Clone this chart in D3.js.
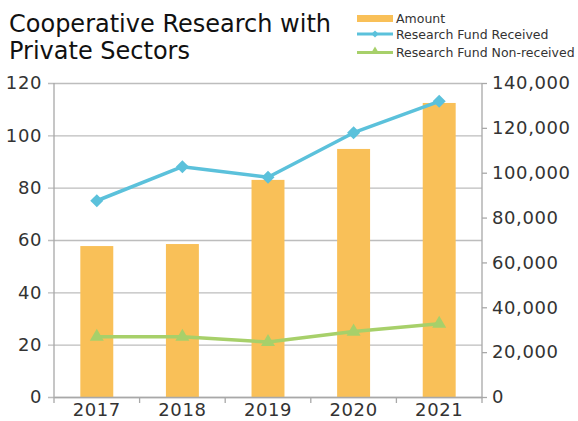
<!DOCTYPE html>
<html>
<head>
<meta charset="utf-8">
<script src="https://cdn.jsdelivr.net/npm/d3@7"></script>
<style>
  html, body { margin: 0; padding: 0; background: #fff; overflow: hidden; }
  svg { display: block; }
  text { font-family: "DejaVu Sans", sans-serif; }
</style>
</head>
<body>
<svg id="chart" width="578" height="421"></svg>
<script>
const titleLines = ["Cooperative Research with", "Private Sectors"];
const years = ["2017", "2018", "2019", "2020", "2021"];
const amount = [67300, 68200, 96800, 110600, 131100];
const fundReceived = [75, 88, 84, 101, 113];
const fundNonReceived = [23, 23, 21, 25, 28];
const leftTicks = [0, 20, 40, 60, 80, 100, 120];
const rightTicks = [0, 20000, 40000, 60000, 80000, 100000, 120000, 140000];
const seriesNames = ["Amount", "Research Fund Received", "Research Fund Non-received"];

const colors = { bar: "#F9C058", received: "#5BC1DB", nonReceived: "#A7D06A", grid: "#BDBDBD", axis: "#A8A8A8", text: "#333333" };

const svg = d3.select("#chart");
const plot = { left: 54, right: 482, top: 83, bottom: 397 };

const x = d3.scaleBand().domain(years).range([plot.left, plot.right]).padding(0);
const yL = d3.scaleLinear().domain([0, 120]).range([plot.bottom, plot.top]);
const yR = d3.scaleLinear().domain([0, 140000]).range([plot.bottom, plot.top]);

// gridlines (left axis ticks extended across)
const leftAxis = d3.axisLeft(yL).tickValues(leftTicks).tickSize(6).tickPadding(6).tickFormat(d3.format("d"));
const gL = svg.append("g").attr("transform", `translate(${plot.left},0)`).call(leftAxis);
gL.select(".domain").remove();
gL.selectAll(".tick line").attr("stroke", colors.grid).attr("stroke-width", 1.3)
  .attr("x1", -6).attr("x2", plot.right - plot.left);
gL.selectAll(".tick text").attr("fill", colors.text).style("font-size", "18px").style("letter-spacing", "0.6px");

const rightAxis = d3.axisRight(yR).tickValues(rightTicks).tickSize(5).tickPadding(5).tickFormat(d3.format(","));
const gR = svg.append("g").attr("transform", `translate(${plot.right},0)`).call(rightAxis);
gR.select(".domain").remove();
gR.selectAll(".tick line").attr("stroke", colors.axis).attr("stroke-width", 1.3);
gR.selectAll(".tick text").attr("fill", colors.text).style("font-size", "18px").style("letter-spacing", "0.6px");

// bars
const barW = x.bandwidth() * 0.385;
svg.append("g").selectAll("rect").data(years).join("rect")
  .attr("x", d => x(d) + x.bandwidth() / 2 - barW / 2)
  .attr("width", barW)
  .attr("y", (d, i) => yR(amount[i]))
  .attr("height", (d, i) => yR(0) - yR(amount[i]))
  .attr("fill", colors.bar);

// axis lines
svg.append("line").attr("x1", plot.left).attr("x2", plot.left).attr("y1", plot.top).attr("y2", plot.bottom + 6)
  .attr("stroke", colors.axis).attr("stroke-width", 1.3);
svg.append("line").attr("x1", plot.right).attr("x2", plot.right).attr("y1", plot.top).attr("y2", plot.bottom + 6)
  .attr("stroke", colors.axis).attr("stroke-width", 1.3);

const bottomAxis = d3.axisBottom(x).tickSize(0).tickPadding(0);
const gB = svg.append("g").attr("transform", `translate(0,${plot.bottom})`).call(bottomAxis);
gB.select(".domain").attr("stroke", colors.axis).attr("stroke-width", 1.3);
gB.selectAll(".tick text").attr("fill", colors.text).style("font-size", "18px").style("letter-spacing", "0.6px")
  .attr("y", 19).attr("dy", "0");
// boundary ticks between categories
svg.append("g").selectAll("line").data(years.slice(1)).join("line")
  .attr("x1", d => x(d)).attr("x2", d => x(d))
  .attr("y1", plot.bottom).attr("y2", plot.bottom + 6)
  .attr("stroke", colors.axis).attr("stroke-width", 1.3);

// lines
const cx = d => x(d) + x.bandwidth() / 2;
const lineGen = vals => d3.line().x(d => cx(d)).y((d, i) => yL(vals[i]))(years);

svg.append("path").attr("d", lineGen(fundNonReceived)).attr("fill", "none")
  .attr("stroke", colors.nonReceived).attr("stroke-width", 3.5).attr("stroke-linejoin", "round");
svg.append("g").selectAll("path").data(years).join("path")
  .attr("d", d3.symbol().type(d3.symbolTriangle).size(85))
  .attr("transform", (d, i) => `translate(${cx(d)},${yL(fundNonReceived[i])})`)
  .attr("fill", colors.nonReceived);

svg.append("path").attr("d", lineGen(fundReceived)).attr("fill", "none")
  .attr("stroke", colors.received).attr("stroke-width", 3.5).attr("stroke-linejoin", "round");
svg.append("g").selectAll("path").data(years).join("path")
  .attr("d", d3.symbol().type(d3.symbolSquare).size(85))
  .attr("transform", (d, i) => `translate(${cx(d)},${yL(fundReceived[i])}) rotate(45)`)
  .attr("fill", colors.received);

// title
svg.append("text").attr("x", 9).attr("y", 31.5).attr("fill", "#111").style("font-size", "24px")
  .selectAll("tspan").data(titleLines).join("tspan")
  .attr("x", 9).attr("dy", (d, i) => i === 0 ? 0 : 27).text(d => d);

// legend
const lg = svg.append("g");
const lx0 = 357, lx1 = 393;
lg.append("rect").attr("x", lx0).attr("y", 15).attr("width", lx1 - lx0).attr("height", 7).attr("fill", colors.bar);
lg.append("line").attr("x1", lx0).attr("x2", lx1).attr("y1", 34).attr("y2", 34).attr("stroke", colors.received).attr("stroke-width", 3);
lg.append("path").attr("d", d3.symbol().type(d3.symbolSquare).size(26)).attr("transform", `translate(${(lx0 + lx1) / 2},34) rotate(45)`).attr("fill", colors.received);
lg.append("line").attr("x1", lx0).attr("x2", lx1).attr("y1", 52.5).attr("y2", 52.5).attr("stroke", colors.nonReceived).attr("stroke-width", 3);
lg.append("path").attr("d", d3.symbol().type(d3.symbolTriangle).size(34)).attr("transform", `translate(${(lx0 + lx1) / 2},51.5)`).attr("fill", colors.nonReceived);
const legendY = [22.5, 39, 57];
lg.selectAll("text").data(seriesNames).join("text")
  .attr("x", 396).attr("y", (d, i) => legendY[i]).attr("fill", colors.text).style("font-size", "12.5px")
  .text(d => d);
</script>
</body>
</html>
